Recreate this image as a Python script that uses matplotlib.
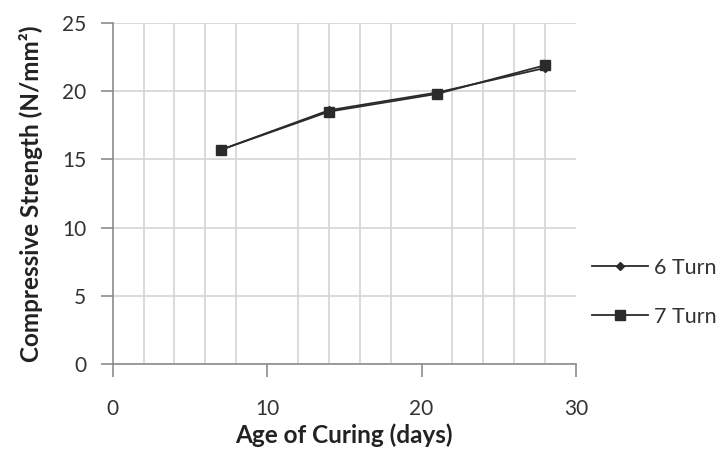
import matplotlib
matplotlib.use('Agg')
import matplotlib.pyplot as plt
import numpy as np

# Data
days = [7, 14, 21, 28]
turn6 = [15.7, 18.6, 19.9, 21.7]
turn7 = [15.7, 18.5, 19.8, 21.9]

plt.rcParams['font.family'] = ['Lato', 'DejaVu Sans']

fig = plt.figure(figsize=(7.2, 4.5), dpi=100)
ax = fig.add_axes([0.1565, 0.191, 0.6435, 0.758])

lineColor = '#2b2b2b'
ax.plot(days, turn6, color=lineColor, lw=1.3, marker='D', ms=4, label='6 Turn')
ax.plot(days, turn7, color=lineColor, lw=1.3, marker='s', ms=6.5, label='7 Turn')

ax.set_xlim(0, 30)
ax.set_ylim(0, 25)
ax.set_xticks([0, 10, 20, 30])
ax.set_xticks(np.arange(0, 31, 2), minor=True)
ax.set_yticks(np.arange(0, 26, 5))

ax.grid(which='minor', axis='x', color='#d4d4d4', lw=1.2)
ax.grid(which='major', axis='y', color='#d4d4d4', lw=1.2)
ax.set_axisbelow(True)

for side in ['top', 'right']:
    ax.spines[side].set_visible(False)
for side in ['left', 'bottom']:
    ax.spines[side].set_color('#8c8c8c')
    ax.spines[side].set_linewidth(1.2)

ax.tick_params(which='major', direction='out', length=9, width=1.2, color='#8c8c8c',
               labelsize=15, labelcolor='#333333')
ax.tick_params(axis='x', pad=16)
ax.tick_params(axis='y', pad=10)
ax.tick_params(which='minor', length=0)

ax.set_xlabel('Age of Curing (days)', fontsize=17.5, fontweight='bold', color='#222222', labelpad=3)
ax.set_ylabel('Compressive Strength (N/mm²)', fontsize=17.5, fontweight='bold', color='#222222', labelpad=14)

fig.legend(loc='center left', bbox_to_anchor=(0.822, 0.35), frameon=False, fontsize=15.5,
           borderpad=0, borderaxespad=0, handlelength=2.6, handletextpad=0.3,
           labelspacing=1.35, labelcolor='#333333')

plt.savefig('out.png', dpi=100)
